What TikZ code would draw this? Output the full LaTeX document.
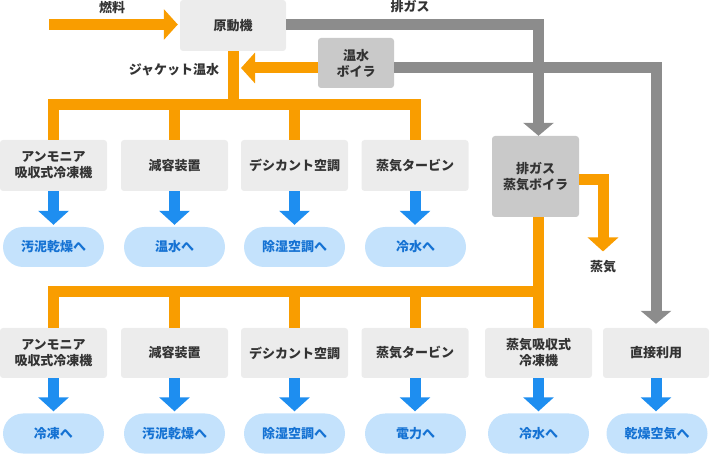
\documentclass[tikz,border=0pt]{standalone}
\usepackage{fontspec}
\setmainfont{Noto Sans CJK JP}
\usetikzlibrary{arrows.meta}
\definecolor{pipeorange}{HTML}{F99D00}
\definecolor{gasgray}{HTML}{8C8C8C}
\definecolor{unitgray}{HTML}{ECECEC}
\definecolor{boilergray}{HTML}{C9C9C9}
\definecolor{feedblue}{HTML}{1E8EF0}
\definecolor{pillblue}{HTML}{C4E2FC}
\definecolor{pilltext}{HTML}{1572D3}
\definecolor{textgray}{HTML}{333333}
\begin{document}
\begin{tikzpicture}
[x=1pt, y=-1pt, font=\fontsize{13}{16}\selectfont\bfseries,
 unit/.style={fill=unitgray, rounded corners=3pt, minimum width=107pt, minimum height=51pt, inner sep=0pt, align=center, text=textgray},
 boiler/.style={fill=boilergray, rounded corners=3pt, inner sep=0pt, align=center, text=textgray},
 pill/.style={fill=pillblue, rounded corners=20pt, minimum width=101pt, minimum height=40pt, inner sep=0pt, text=pilltext},
 tag/.style={text=textgray, inner sep=2pt},
 pipe/.style={draw=pipeorange, line width=11pt, -{Triangle[width=30pt,length=14pt]}},
 pipeline/.style={draw=pipeorange, line width=11pt},
 gas/.style={draw=gasgray, line width=11pt, -{Triangle[width=30pt,length=13pt]}},
 feed/.style={draw=feedblue, line width=11pt, -{Triangle[width=30pt,length=14pt]}, shorten >=2pt}]
\useasboundingbox (0,0) rectangle (710,454);
% sources
\node [unit, minimum width=106pt] (engine) at (233,25.5) {原動機};
\node [boiler, minimum width=76pt, minimum height=50pt] (wboiler) at (356,63) {温水\\ボイラ};
\node [boiler, minimum width=87pt, minimum height=81pt] (gboiler) at (535.5,176.5) {排ガス\\蒸気ボイラ};
\node [tag] (fuellbl) at (112,8) {燃料};
\node [tag] (gaslbl) at (410,7) {排ガス};
\node [tag] (jacketlbl) at (174,70) {ジャケット温水};
\node [tag] (steam) at (603,267) {蒸気};
% first row
\node [unit] (a1) at (53.5,165.5) {アンモニア\\吸収式冷凍機};
\node [unit] (a2) at (174.5,165.5) {減容装置};
\node [unit] (a3) at (294.5,165.5) {デシカント空調};
\node [unit] (a4) at (415,165.5) {蒸気タービン};
\node [pill] (pa1) at (53.5,247) {汚泥乾燥へ};
\node [pill] (pa2) at (174.5,247) {温水へ};
\node [pill] (pa3) at (294.5,247) {除湿空調へ};
\node [pill] (pa4) at (415.5,247) {冷水へ};
% second row
\node [unit, minimum height=50pt] (b1) at (53.5,353) {アンモニア\\吸収式冷凍機};
\node [unit, minimum height=50pt] (b2) at (174.5,353) {減容装置};
\node [unit, minimum height=50pt] (b3) at (294.5,353) {デシカント空調};
\node [unit, minimum height=50pt] (b4) at (415,353) {蒸気タービン};
\node [unit, minimum height=50pt] (b5) at (538.5,353) {蒸気吸収式\\冷凍機};
\node [unit, minimum height=50pt, minimum width=106pt] (b6) at (656,353) {直接利用};
\node [pill] (pb1) at (53.5,433.5) {冷凍へ};
\node [pill] (pb2) at (174.5,433.5) {汚泥乾燥へ};
\node [pill] (pb3) at (294.5,433.5) {除湿空調へ};
\node [pill] (pb4) at (415.5,433.5) {電力へ};
\node [pill] (pb5) at (538.5,433.5) {冷水へ};
\node [pill] (pb6) at (657,433.5) {乾燥空気へ};
% fuel and exhaust gas
\coordinate (fuel) at (49,24.5);
\coordinate (jtip) at (241,68);
\draw [pipe, shorten >=2pt] (fuel) -- (fuel -| engine.west);
\draw [gas] (engine.east |- fuel) -| ([xshift=3pt]gboiler.north);
\draw [gas, shorten >=4pt] (wboiler.east |- jtip) -| (b6.north);
\draw [pipe] (wboiler.west |- jtip) -- (jtip);
\draw [pipe, shorten >=7pt] ([yshift=-3.5pt]gboiler.east) -| (steam.north);
% jacket water bus
\coordinate (jbus) at (233.5,104.5);
\draw [pipeline] (engine.south) -- (engine.south |- jbus);
\draw [pipeline] (a1.north) |- (jbus) -| (a4.north);
\draw [pipeline] (a2.north) -- (a2.north |- jbus);
\draw [pipeline] (a3.north) -- (a3.north |- jbus);
% steam bus
\coordinate (sbus) at (538.5,291.5);
\draw [pipeline] (b5.north) -- (b5.north |- gboiler.south);
\draw [pipeline] (b1.north) |- (sbus);
\draw [pipeline] (b2.north) -- (b2.north |- sbus);
\draw [pipeline] (b3.north) -- (b3.north |- sbus);
\draw [pipeline] (b4.north) -- (b4.north |- sbus);
% outputs
\draw [feed] (a1.south) -- (a1.south |- pa1.north);
\draw [feed] (a2.south) -- (a2.south |- pa2.north);
\draw [feed] (a3.south) -- (a3.south |- pa3.north);
\draw [feed] (a4.south) -- (a4.south |- pa4.north);
\draw [feed] (b1.south) -- (b1.south |- pb1.north);
\draw [feed] (b2.south) -- (b2.south |- pb2.north);
\draw [feed] (b3.south) -- (b3.south |- pb3.north);
\draw [feed] (b4.south) -- (b4.south |- pb4.north);
\draw [feed] (b5.south) -- (b5.south |- pb5.north);
\draw [feed] (b6.south) -- (b6.south |- pb6.north);
\end{tikzpicture}
\end{document}
